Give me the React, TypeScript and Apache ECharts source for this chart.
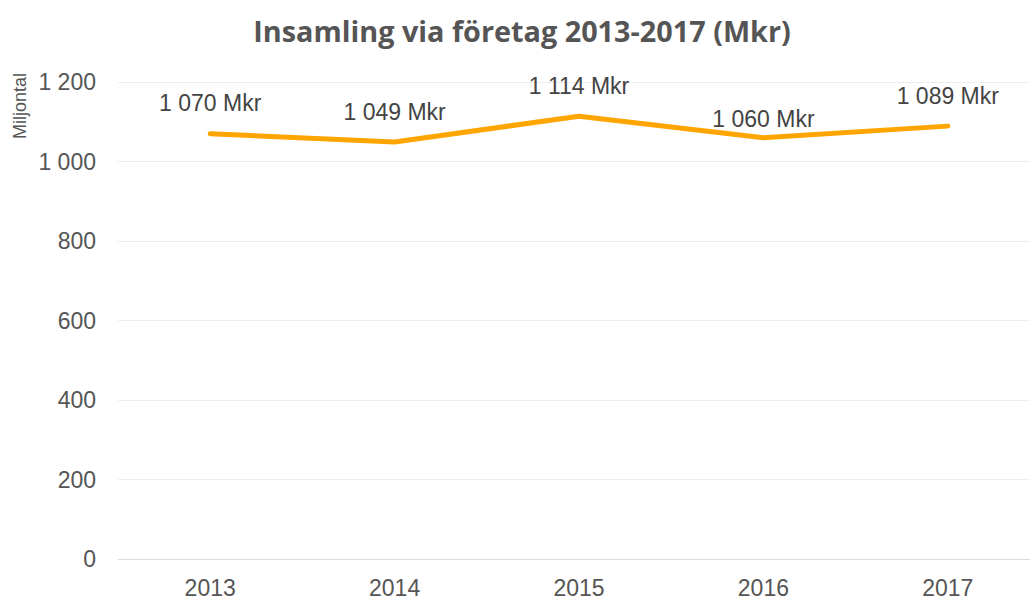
import React, { useEffect, useRef } from "react";
import * as echarts from "echarts";

const categories = ["2013", "2014", "2015", "2016", "2017"];
const values = [1070, 1049, 1114, 1060, 1089];
const labelDistances = [18, 18, 18, 6, 18];

const fmt = (v: number) => String(v).replace(/\B(?=(\d{3})+(?!\d))/g, " ");

export default function App() {
  const ref = useRef<HTMLDivElement>(null);
  useEffect(() => {
    const chart = echarts.init(ref.current!, undefined, { renderer: "svg" });
    chart.setOption({
      animation: false,
      backgroundColor: "#fff",
      title: {
        text: "Insamling via företag 2013-2017 (Mkr)",
        left: 517,
        textAlign: "center",
        top: 11,
        textStyle: {
          fontFamily: "Open Sans",
          fontWeight: "bold",
          fontSize: 28.8,
          color: "#555",
        },
      },
      graphic: [
        {
          type: "text",
          x: 11,
          y: 106,
          rotation: Math.PI / 2,
          style: {
            text: "Miljontal",
            fontFamily: "Liberation Sans",
            fontSize: 18,
            fill: "#555",
            textAlign: "center",
            textVerticalAlign: "top",
          },
        },
      ],
      grid: { left: 118, top: 82, width: 922, height: 477 },
      xAxis: {
        type: "category",
        data: categories,
        boundaryGap: true,
        axisLine: { show: true, lineStyle: { color: "#ddd", width: 1 } },
        axisTick: { show: false },
        axisLabel: {
          color: "#555",
          fontFamily: "Liberation Sans",
          fontSize: 23,
          margin: 17,
        },
      },
      yAxis: {
        type: "value",
        min: 0,
        max: 1200,
        interval: 200,
        axisLine: { show: false },
        axisTick: { show: false },
        splitLine: { lineStyle: { color: "#eee", width: 1 } },
        axisLabel: {
          color: "#555",
          fontFamily: "Liberation Sans",
          fontSize: 23,
          margin: 22,
          formatter: (v: number) => fmt(v),
        },
      },
      series: [
        {
          type: "line",
          data: values.map((v, i) => ({
            value: v,
            label: { distance: labelDistances[i] },
          })),
          symbol: "circle",
          symbolSize: 2,
          showSymbol: true,
          itemStyle: { color: "#FFA500" },
          lineStyle: { color: "#FFA500", width: 5, cap: "round", join: "round" },
          label: {
            show: true,
            position: "top",
            color: "#444",
            opacity: 1,
            fontFamily: "Liberation Sans",
            fontSize: 23,
            formatter: (p: any) => fmt(p.value) + " Mkr",
          },
        },
      ],
    });
    return () => chart.dispose();
  }, []);
  return (
    <div style={{ position: "fixed", left: 0, top: 0, width: 1030, height: 599, overflow: "hidden" }}>
      <div ref={ref} style={{ width: 1045, height: 599 }} />
    </div>
  );
}
